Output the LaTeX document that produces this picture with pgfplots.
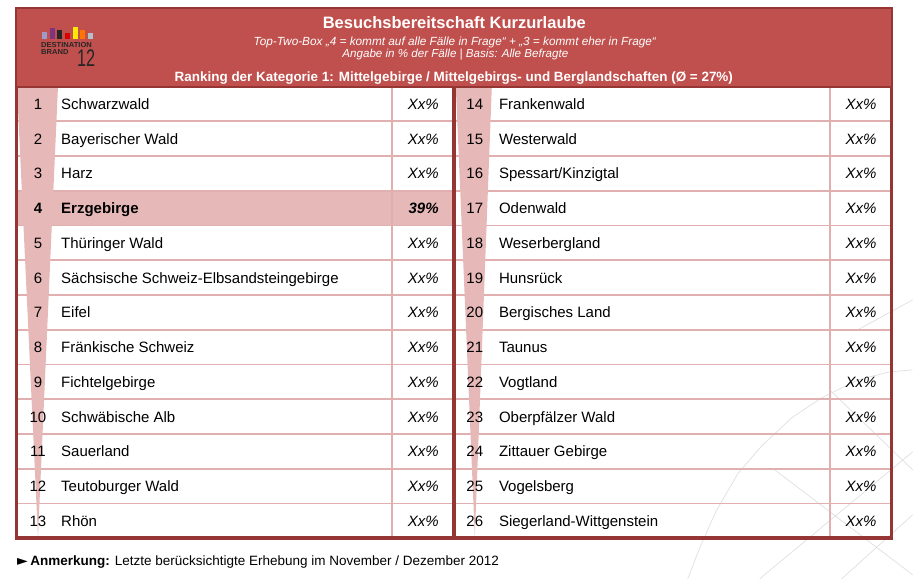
\documentclass[border=0pt]{standalone}
\usepackage{fontspec}
\setmainfont{Liberation Sans}
\newfontfamily\dejavu{DejaVu Sans}
\usepackage{pgfplots}
\usepackage{pgfplotstable}
\pgfplotsset{compat=1.18}

\definecolor{hdr}{RGB}{192,80,77}
\definecolor{rim}{RGB}{150,54,52}
\definecolor{rose}{RGB}{230,184,183}
\definecolor{sep}{RGB}{225,175,175}

% ranks 1-13 (row 4 is the highlighted one)
\pgfplotstableread[col sep=comma]{
rank,name,val
1,Schwarzwald,Xx
2,Bayerischer Wald,Xx
3,Harz,Xx
5,Thüringer Wald,Xx
6,Sächsische Schweiz-Elbsandsteingebirge,Xx
7,Eifel,Xx
8,Fränkische Schweiz,Xx
9,Fichtelgebirge,Xx
10,Schwäbische Alb,Xx
11,Sauerland,Xx
12,Teutoburger Wald,Xx
13,Rhön,Xx
}\leftrows

\pgfplotstableread[col sep=comma]{
rank,name,val
4,Erzgebirge,39
}\hilite

\pgfplotstableread[col sep=comma]{
rank,name,val
14,Frankenwald,Xx
15,Westerwald,Xx
16,Spessart/Kinzigtal,Xx
17,Odenwald,Xx
18,Weserbergland,Xx
19,Hunsrück,Xx
20,Bergisches Land,Xx
21,Taunus,Xx
22,Vogtland,Xx
23,Oberpfälzer Wald,Xx
24,Zittauer Gebirge,Xx
25,Vogelsberg,Xx
26,Siegerland-Wittgenstein,Xx
}\rightrows

\newcommand\rowfont{\fontsize{15bp}{18bp}\selectfont}

\pgfplotsset{
  cell/.style={draw=none, mark=none, nodes near coords,
    point meta=explicit symbolic,
    every node near coord/.append style={inner sep=0pt, text=black}},
}

\begin{document}
\begin{tikzpicture}
\begin{axis}[
    scale only axis,
    width=913bp, height=579bp,
    xmin=0, xmax=913, ymin=0, ymax=579,
    y dir=reverse,
    hide axis,
    clip=false,
]
\addplot[draw=none] coordinates {(0,0) (913,579)};

% faint map lines in the background
\addplot[gray!25, line width=0.7bp] coordinates {(688,579) (700,548) (716,512) (738,474) (762,446) (792,418) (822,398) (858,380) (890,372) (913,370)};
\addplot[gray!25, line width=0.7bp] coordinates {(760,579) (913,452)};
\addplot[gray!25, line width=0.7bp] coordinates {(775,470) (913,575)};
\addplot[gray!25, line width=0.7bp] coordinates {(842,579) (913,515)};
\addplot[gray!25, line width=0.7bp] coordinates {(858,330) (913,300)};
\addplot[gray!25, line width=0.7bp] coordinates {(830,390) (913,470)};

% highlighted row 4
\addplot[fill=rose, draw=none] coordinates {(17,190.85) (452,190.85) (452,225.6) (17,225.6)} -- cycle;

% row separators
\pgfplotsinvokeforeach{121.35,156.1,190.85,225.6,260.35,295.1,329.85,364.6,399.35,434.1,468.85,503.6}{
  \addplot[sep, line width=1.8bp] coordinates {(17,#1) (452,#1)};
  \addplot[sep, line width=1.8bp] coordinates {(456,#1) (891,#1)};
}
\addplot[sep, line width=1.8bp] coordinates {(392,87) (392,537)};
\addplot[sep, line width=1.8bp] coordinates {(830,87) (830,537)};

% tapering rank wedges
\addplot[fill=rose, draw=none] coordinates {(17,87) (58,87) (38,537)} -- cycle;
\addplot[fill=rose, draw=none] coordinates {(456,87) (492,87) (475,537)} -- cycle;

% frame
\addplot[rim, line width=2.5bp] coordinates {(16.5,87) (16.5,538)};
\addplot[rim, line width=4.5bp] coordinates {(454,87) (454,538)};
\addplot[rim, line width=2.5bp] coordinates {(892,87) (892,538)};
\addplot[rim, line width=4.5bp] coordinates {(15,538) (893.5,538)};

% header
\addplot[fill=hdr, draw=rim, line width=1.5bp] coordinates {(16,8) (892.5,8) (892.5,87) (16,87)} -- cycle;

% logo
\addplot[fill=blue!30!gray!60, draw=none] coordinates {(42,32) (47,32) (47,39.5) (42,39.5)} -- cycle;
\addplot[fill=violet!60!gray, draw=none] coordinates {(49.7,28) (54.7,28) (54.7,39.5) (49.7,39.5)} -- cycle;
\addplot[fill=black!85, draw=none] coordinates {(57.4,30) (62.4,30) (62.4,39.5) (57.4,39.5)} -- cycle;
\addplot[fill=red!85!black, draw=none] coordinates {(65.1,33) (70.1,33) (70.1,39.5) (65.1,39.5)} -- cycle;
\addplot[fill=yellow!90!orange, draw=none] coordinates {(72.8,27) (77.8,27) (77.8,39.5) (72.8,39.5)} -- cycle;
\addplot[fill=orange!90!red, draw=none] coordinates {(80.5,30.5) (85.5,30.5) (85.5,39.5) (80.5,39.5)} -- cycle;
\addplot[fill=cyan!20!gray!60, draw=none] coordinates {(88.2,33) (93.2,33) (93.2,39.5) (88.2,39.5)} -- cycle;
\node[anchor=base west, inner sep=0pt, font=\bfseries\fontsize{7.2bp}{8bp}\selectfont, text=black!85, xscale=1.05] at (axis cs:41,47.5) {DESTINATION};
\node[anchor=base west, inner sep=0pt, font=\bfseries\fontsize{7.2bp}{8bp}\selectfont, text=black!85, xscale=1.05] at (axis cs:41,55) {BRAND};
\node[anchor=base west, inner sep=0pt, font=\fontsize{24bp}{24bp}\selectfont, text=black!85, xscale=0.68] at (axis cs:77,67) {12};

\node[anchor=base, inner sep=0pt, text=white, font=\bfseries\fontsize{16.5bp}{18bp}\selectfont] at (axis cs:454.5,28.5) {Besuchsbereitschaft Kurzurlaube};
\node[anchor=base, inner sep=0pt, text=white, font=\itshape\fontsize{11.8bp}{13bp}\selectfont] at (axis cs:455,46) {Top-Two-Box „4 = kommt auf alle Fälle in Frage“ + „3 = kommt eher in Frage“};
\node[anchor=base, inner sep=0pt, text=white, font=\itshape\fontsize{11.6bp}{13bp}\selectfont] at (axis cs:455.5,57.5) {Angabe in \% der Fälle | Basis: Alle Befragte};
\node[anchor=base, inner sep=0pt, text=white, font=\bfseries\fontsize{13.45bp}{15bp}\selectfont] at (axis cs:454,82) {Ranking der Kategorie 1: Mittelgebirge / Mittelgebirgs- und Berglandschaften (Ø = 27\%)};

% left column texts
\addplot[cell, nodes near coords align={anchor=base}, every node near coord/.append style={font=\rowfont}]
  table[x expr=38, y expr={86.6+(\thisrow{rank}-0.5)*34.75+5.5}, meta=rank] {\leftrows};
\addplot[cell, nodes near coords align={anchor=base west}, every node near coord/.append style={font=\rowfont}]
  table[x expr=61, y expr={86.6+(\thisrow{rank}-0.5)*34.75+5.5}, meta=name] {\leftrows};
\addplot[cell, nodes near coords={\pgfplotspointmeta\%}, nodes near coords align={anchor=base east}, every node near coord/.append style={font=\rowfont\itshape}]
  table[x expr=439, y expr={86.6+(\thisrow{rank}-0.5)*34.75+5.5}, meta=val] {\leftrows};

% highlighted row
\addplot[cell, nodes near coords align={anchor=base}, every node near coord/.append style={font=\rowfont\bfseries}]
  table[x expr=38, y expr={86.6+(\thisrow{rank}-0.5)*34.75+5.5}, meta=rank] {\hilite};
\addplot[cell, nodes near coords align={anchor=base west}, every node near coord/.append style={font=\rowfont\bfseries}]
  table[x expr=61, y expr={86.6+(\thisrow{rank}-0.5)*34.75+5.5}, meta=name] {\hilite};
\addplot[cell, nodes near coords={\pgfplotspointmeta\%}, nodes near coords align={anchor=base east}, every node near coord/.append style={font=\rowfont\bfseries\itshape}]
  table[x expr=439, y expr={86.6+(\thisrow{rank}-0.5)*34.75+5.5}, meta=val] {\hilite};

% right column texts
\addplot[cell, nodes near coords align={anchor=base}, every node near coord/.append style={font=\rowfont}]
  table[x expr=475, y expr={86.6+(\thisrow{rank}-13.5)*34.75+5.5}, meta=rank] {\rightrows};
\addplot[cell, nodes near coords align={anchor=base west}, every node near coord/.append style={font=\rowfont}]
  table[x expr=499, y expr={86.6+(\thisrow{rank}-13.5)*34.75+5.5}, meta=name] {\rightrows};
\addplot[cell, nodes near coords={\pgfplotspointmeta\%}, nodes near coords align={anchor=base east}, every node near coord/.append style={font=\rowfont\itshape}]
  table[x expr=877, y expr={86.6+(\thisrow{rank}-13.5)*34.75+5.5}, meta=val] {\rightrows};

% footnote
\node[anchor=base west, inner sep=0pt, font=\fontsize{13.5bp}{15bp}\selectfont] at (axis cs:17,566)
  {{\dejavu\fontsize{14bp}{15bp}\selectfont ►}\hspace{2.5bp}\textbf{Anmerkung:} Letzte berücksichtigte Erhebung im November / Dezember 2012};
\end{axis}
\end{tikzpicture}
\end{document}
